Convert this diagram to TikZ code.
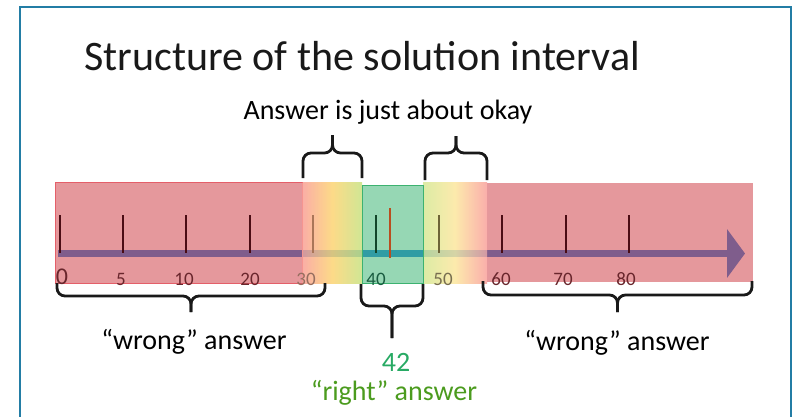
\documentclass[tikz,border=0pt]{standalone}
\usepackage{fontspec}
\setmainfont{Carlito}
\usetikzlibrary{arrows.meta}
\definecolor{framec}{RGB}{35,125,165}
\definecolor{redfill}{RGB}{212,83,90}
\definecolor{redline}{RGB}{228,95,105}
\definecolor{greenfill}{RGB}{80,188,130}
\definecolor{greenline}{RGB}{60,178,112}
\definecolor{barc}{RGB}{0,110,215}
\definecolor{gLa}{RGB}{249,160,150}
\definecolor{gLb}{RGB}{252,212,115}
\definecolor{gLc}{RGB}{200,226,130}
\definecolor{gRa}{RGB}{214,232,149}
\definecolor{gRb}{RGB}{252,230,158}
\definecolor{gRc}{RGB}{249,160,156}
\definecolor{tickdark}{RGB}{75,12,20}
\definecolor{tickthirty}{RGB}{170,118,88}
\definecolor{tickforty}{RGB}{18,70,42}
\definecolor{tickans}{RGB}{185,78,32}
\definecolor{tickfifty}{RGB}{110,100,55}
\definecolor{labred}{RGB}{105,38,44}
\definecolor{labthirty}{RGB}{150,110,95}
\definecolor{labforty}{RGB}{25,92,64}
\definecolor{labfifty}{RGB}{120,110,80}
\definecolor{titlec}{RGB}{25,25,25}
\definecolor{fortytwo}{RGB}{40,170,100}
\definecolor{rightc}{RGB}{75,155,30}
\newcommand{\drawbrace}[5]{%
  \draw[bracestyle] (#1,#3) -- (#1,#4) -- ({(#1+#2)/2},#4) -- ({(#1+#2)/2},#5);
  \draw[bracestyle] (#2,#3) -- (#2,#4) -- ({(#1+#2)/2},#4) -- ({(#1+#2)/2},#5);}
\begin{document}
\begin{tikzpicture}[x=1pt,y=-1pt,
  framestyle/.style={draw=framec,line width=2},
  bracestyle/.style={draw=black!90,line width=2.8,rounded corners=8},
  ticksty/.style={line width=2.9},
  axlabel/.style={font=\fontsize{19}{21}\selectfont,inner sep=0},
  bigtext/.style={font=\fontsize{28}{34}\selectfont,inner sep=0}]
\useasboundingbox (0,0) rectangle (796,416);
% frame
\draw[framestyle] (20,418) -- (20,7) -- (791,7) -- (791,418);
% axis
\coordinate (axisstart) at (58,253.5);
\coordinate (axisend) at (745,253.5);
\draw[barc,line width=7,-{Triangle[width=48pt,length=18pt]}] (axisstart) -- (axisend);
% zones
\filldraw[fill=redfill,fill opacity=0.6,draw=redline,line width=1] (55,182) rectangle (302,283);
\fill[redfill,fill opacity=0.6] (487,183) rectangle (753,282);
\shade[left color=gLa,right color=gLc,middle color=gLb,opacity=0.85] (302.5,182) rectangle (362,283);
\shade[left color=gRa,right color=gRc,middle color=gRb,opacity=0.85] (423,182) rectangle (487,283);
\filldraw[fill=greenfill,fill opacity=0.6,draw=greenline,line width=1] (362,185) rectangle (423,283);
% ticks
\foreach \x/\c in {60/tickdark,123/tickdark,186/tickdark,250/tickdark,313/tickthirty,376/tickforty,439/tickfifty,502/tickdark,566/tickdark,629/tickdark}
  \draw[ticksty,\c] (\x,215) -- (\x,253);
\draw[ticksty,tickans] (390,208) -- (390,258);
% labels
\node[font=\fontsize{24}{26}\selectfont,inner sep=0,text=labred,anchor=base] (lab0) at (62,284) {0};
\foreach \x/\t/\c in {121/5/labred,184/10/labred,250/20/labred,306/30/labthirty,376/40/labforty,443/50/labfifty,501/60/labred,563/70/labred,626/80/labred}
  \node[axlabel,text=\c,anchor=base] (lab\t) at (\x,285.5) {\t};
% braces
\drawbrace{303}{362}{178}{153}{135}
\drawbrace{425}{487}{180}{153}{136}
\drawbrace{57}{325}{283}{296}{312}
\drawbrace{361}{423}{284}{306}{338}
\drawbrace{483}{752}{281}{295}{312}
% texts
\node[anchor=base west,font=\fontsize{42}{50}\selectfont,text=titlec,inner sep=0] (title) at (84,70) {Structure of the solution interval};
\node[bigtext,anchor=base] (okay) at (388,119) {Answer is just about okay};
\node[bigtext,anchor=base] (wrongL) at (194,349) {“wrong” answer};
\node[bigtext,anchor=base] (wrongR) at (617,350) {“wrong” answer};
\node[bigtext,anchor=base,text=fortytwo] (answer) at (396,371) {42};
\node[bigtext,anchor=base,text=rightc] (right) at (394,400) {“right” answer};
\end{tikzpicture}
\end{document}
